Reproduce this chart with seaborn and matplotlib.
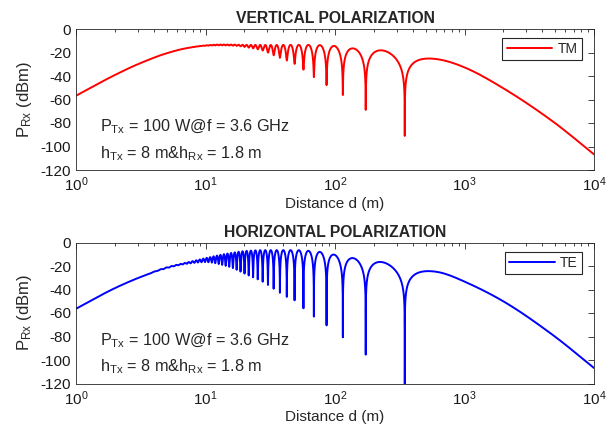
import numpy as np
import pandas as pd
import matplotlib
matplotlib.use("Agg")
import matplotlib.pyplot as plt
import seaborn as sns
from matplotlib.ticker import LogLocator, NullFormatter

# ---------------- data ----------------
P_TX_W = 100
FREQ_GHZ = 3.6
H_TX = 8.0
H_RX = 1.8

# vertical polarization (TM): upper envelope (peaks) and lower envelope (nulls), dBm
tm_peak_d = [1, 2, 3, 5, 7, 10, 13, 17, 22, 33, 49.4, 69, 100, 138, 231, 628, 1000, 2000, 4850, 10000]
tm_peak_db = [-56.8, -39.1, -30.0, -20.7, -16.5, -13.9, -13.2, -13.3, -13.5, -13.6, -13.5, -13.6,
              -14.5, -16.5, -18.2, -25.7, -31.6, -44.8, -65.9, -87.4]
tm_null_d = [1, 2, 3, 5, 7, 10, 13, 17, 22, 28, 33, 43.2, 49.4, 57.6, 69, 86, 115, 173, 346, 10000]
tm_null_db = [-56.8, -39.1, -30.0, -20.7, -16.55, -14.3, -13.9, -14.3, -16.0, -18.5, -22.0, -27.2,
              -30.0, -34.9, -41.1, -47.7, -56.2, -68.9, -91.0, -157.0]

# horizontal polarization (TE)
te_peak_d = [1, 2, 3, 5, 7, 10, 15, 21, 28, 49.4, 57.6, 69, 86, 100, 138, 231, 628, 1000, 2000, 4850, 10000]
te_peak_db = [-56.4, -38.8, -30.3, -21.2, -17.3, -13.3, -9.3, -7.1, -6.5, -6.5, -6.8, -7.5, -8.8,
              -10.5, -13.3, -16.7, -25.1, -32.2, -44.4, -65.95, -87.5]
te_null_d = [1, 2, 3, 5, 7, 10, 15, 21, 28, 33, 43.2, 49.4, 57.6, 69, 86, 115, 173, 346, 10000]
te_null_db = [-56.4, -38.8, -30.35, -21.9, -18.3, -16.7, -20.5, -27.5, -33.7, -38.8, -46.7, -49.6,
              -56.4, -63.2, -70.5, -80.7, -95.5, -140.0, -210.0]

x_ticks = [1, 10, 100, 1000, 10000]
y_ticks = [-120, -100, -80, -60, -40, -20, 0]


# ---------------- helpers ----------------
def pchip(x, y, xq):
    x = np.asarray(x, float); y = np.asarray(y, float)
    h = np.diff(x); delta = np.diff(y) / h
    n = len(x); m = np.zeros(n)
    m[0] = delta[0]; m[-1] = delta[-1]
    for k in range(1, n - 1):
        if delta[k - 1] * delta[k] <= 0:
            m[k] = 0.0
        else:
            w1 = 2 * h[k] + h[k - 1]; w2 = h[k] + 2 * h[k - 1]
            m[k] = (w1 + w2) / (w1 / delta[k - 1] + w2 / delta[k])
    idx = np.clip(np.searchsorted(x, xq) - 1, 0, n - 2)
    t = (xq - x[idx]) / h[idx]
    h00 = 2 * t**3 - 3 * t**2 + 1; h10 = t**3 - 2 * t**2 + t
    h01 = -2 * t**3 + 3 * t**2; h11 = t**3 - t**2
    return h00 * y[idx] + h10 * h[idx] * m[idx] + h01 * y[idx + 1] + h11 * h[idx] * m[idx + 1]


lam = 0.299792458 / FREQ_GHZ
a, b = H_TX + H_RX, H_TX - H_RX
# distances of exact two-ray nulls (so the sampled curve reaches them)
nn = np.arange(1, 60)
D = nn * lam
nulls = np.sqrt(((a**2 - b**2 - D**2) / (2 * D))**2 - b**2)
nulls = nulls[(nulls > 1) & (nulls < 1e4)]
d = np.unique(np.concatenate([np.logspace(0, 4, 120000), nulls]))
dphi = 2 * np.pi * (np.sqrt(d**2 + a**2) - np.sqrt(d**2 + b**2)) / lam
ld = np.log10(d)


def received(peak_d, peak_db, null_d, null_db):
    P = pchip(np.log10(peak_d), peak_db, ld)
    N = pchip(np.log10(null_d), null_db, ld)
    r = np.clip(10 ** ((N - P) / 20), 0, 1)
    rho = (1 - r) / (1 + r)
    E = P - 20 * np.log10(1 + rho)
    return E + 20 * np.log10(np.abs(1 - rho * np.exp(-1j * dphi)))


df = pd.DataFrame({"d": d,
                   "TM": received(tm_peak_d, tm_peak_db, tm_null_d, tm_null_db),
                   "TE": received(te_peak_d, te_peak_db, te_null_d, te_null_db)})

# ---------------- plotting ----------------
sns.set_style("white")
plt.rcParams["font.family"] = ["Liberation Sans", "DejaVu Sans"]
plt.rcParams["mathtext.fontset"] = "custom"
plt.rcParams["mathtext.rm"] = "Liberation Sans"
plt.rcParams["mathtext.it"] = "Liberation Sans"
plt.rcParams["mathtext.default"] = "regular"
plt.rcParams["axes.unicode_minus"] = False

fig = plt.figure(figsize=(6.13, 4.30), dpi=100)
W, H = 613, 430
ax1 = fig.add_axes([76 / W, 1 - 170 / H, 518 / W, 141 / H])
ax2 = fig.add_axes([76 / W, 1 - 383.5 / H, 518 / W, 141 / H])

specs = [(ax1, "TM", "red", "VERTICAL POLARIZATION"),
         (ax2, "TE", "blue", "HORIZONTAL POLARIZATION")]
for ax, col, color, title in specs:
    sns.lineplot(data=df, x="d", y=col, ax=ax, color=color, lw=1.4, label=col,
                 estimator=None, sort=False)
    ax.set_xscale("log")
    ax.set_xlim(x_ticks[0], x_ticks[-1])
    ax.set_ylim(y_ticks[0], y_ticks[-1])
    ax.set_xticks(x_ticks)
    ax.xaxis.set_minor_locator(LogLocator(base=10, subs=np.arange(2, 10)))
    ax.xaxis.set_minor_formatter(NullFormatter())
    ax.set_yticks(y_ticks)
    ax.tick_params(axis="both", which="both", direction="in", top=True, right=True,
                   colors="0.15", labelcolor="0.1", labelsize=11, width=0.6)
    ax.tick_params(which="major", length=4)
    ax.tick_params(which="minor", length=2.5)
    ax.tick_params(axis="x", pad=4)
    for s in ax.spines.values():
        s.set_color("0.15"); s.set_linewidth(0.6); s.set_visible(True)
    ax.set_title(title, fontsize=11.3, fontweight="bold", pad=4)
    ax.set_xlabel("Distance d (m)", fontsize=11, labelpad=2)
    ax.set_ylabel(r"$P_{Rx}$ (dBm)", fontsize=12, labelpad=5)
    ax.text(0.046, 0.272, r"$P_{Tx}$ = %d W@f = %.1f GHz" % (P_TX_W, FREQ_GHZ),
            transform=ax.transAxes, fontsize=11.7, va="baseline", ha="left")
    ax.text(0.046, 0.083, r"$h_{Tx}$ = %g m&$h_{Rx}$ = %g m" % (H_TX, H_RX),
            transform=ax.transAxes, fontsize=11.7, va="baseline", ha="left")
    leg = ax.legend(loc="upper right", bbox_to_anchor=(0.977, 0.936), borderaxespad=0,
                    fancybox=False, edgecolor="0.15", framealpha=1, fontsize=10,
                    handlelength=3.3, handletextpad=0.4, borderpad=0.3)
    leg.get_frame().set_linewidth(0.8)

fig.savefig("out.png", dpi=100)
